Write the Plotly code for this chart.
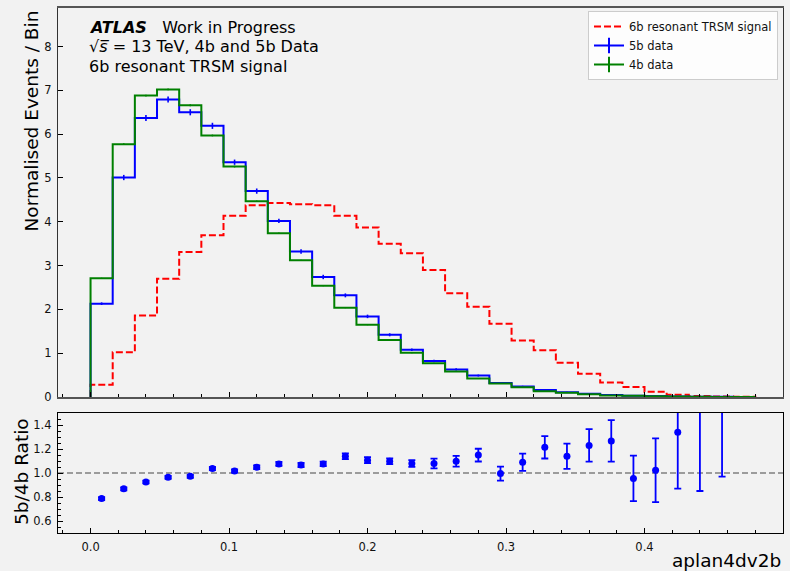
import plotly.graph_objects as go

# ---------------- data ----------------
bin_edges = [0.000, 0.016, 0.032, 0.048, 0.064, 0.080, 0.096, 0.112, 0.128, 0.144,
             0.160, 0.176, 0.192, 0.208, 0.224, 0.240, 0.256, 0.272, 0.288, 0.304,
             0.320, 0.336, 0.352, 0.368, 0.384, 0.400, 0.416, 0.432, 0.448, 0.464, 0.480]
bin_centers = [0.008, 0.024, 0.040, 0.056, 0.072, 0.088, 0.104, 0.120, 0.136, 0.152,
               0.168, 0.184, 0.200, 0.216, 0.232, 0.248, 0.264, 0.280, 0.296, 0.312,
               0.328, 0.344, 0.360, 0.376, 0.392, 0.408, 0.424, 0.440, 0.456, 0.472]

signal_6b = [0.28, 1.02, 1.86, 2.70, 3.31, 3.69, 4.14, 4.38, 4.43, 4.40,
             4.38, 4.14, 3.87, 3.50, 3.28, 2.90, 2.37, 2.06, 1.67, 1.29,
             1.07, 0.78, 0.53, 0.33, 0.23, 0.12, 0.05, 0.025, 0.012, 0.006]

data_5b = [2.13, 5.01, 6.37, 6.79, 6.50, 6.19, 5.36, 4.70, 4.02, 3.32,
           2.74, 2.32, 1.84, 1.42, 1.08, 0.82, 0.63, 0.49, 0.32, 0.24,
           0.16, 0.11, 0.075, 0.046, 0.030, 0.020, 0.012, 0.008, 0.004, 0.0]
data_5b_err = [0.03, 0.06, 0.07, 0.07, 0.07, 0.07, 0.06, 0.06, 0.05, 0.05,
               0.05, 0.045, 0.04, 0.035, 0.03, 0.028, 0.025, 0.022, 0.018, 0.016,
               0.013, 0.011, 0.009, 0.007, 0.006, 0.005, 0.004, 0.004, 0.003, 0.0]

data_4b = [2.71, 5.77, 6.88, 7.02, 6.66, 5.97, 5.26, 4.47, 3.74, 3.12,
           2.54, 2.04, 1.65, 1.30, 1.01, 0.77, 0.58, 0.42, 0.31, 0.22,
           0.13, 0.096, 0.061, 0.036, 0.031, 0.0196, 0.009, 0.004, 0.002, 0.0]
data_4b_err = [0.012, 0.02, 0.02, 0.02, 0.02, 0.02, 0.02, 0.018, 0.016, 0.015,
               0.013, 0.012, 0.011, 0.01, 0.009, 0.008, 0.007, 0.006, 0.005, 0.004,
               0.003, 0.003, 0.002, 0.002, 0.002, 0.001, 0.001, 0.001, 0.001, 0.0]

ratio_5b_4b = [0.787, 0.868, 0.925, 0.964, 0.972, 1.037, 1.017, 1.048, 1.076, 1.067,
               1.076, 1.140, 1.107, 1.098, 1.079, 1.079, 1.098, 1.149, 0.995, 1.090,
               1.214, 1.140, 1.230, 1.267, 0.955, 1.023, 1.340, 1.900, 2.300, None]
ratio_err = [0.012, 0.012, 0.012, 0.012, 0.012, 0.013, 0.014, 0.015, 0.017, 0.018,
             0.019, 0.024, 0.025, 0.024, 0.028, 0.040, 0.045, 0.053, 0.058, 0.072,
             0.093, 0.105, 0.135, 0.173, 0.190, 0.265, 0.470, 1.050, 1.330, None]

x_major_ticks = [0.0, 0.1, 0.2, 0.3, 0.4, 0.5]
main_y_ticks = [0, 1, 2, 3, 4, 5, 6, 7, 8]
ratio_y_ticks = [0.6, 0.8, 1.0, 1.2, 1.4]

# ---------------- layout helpers (pixel -> paper) ----------------
W, H = 790, 571
ML, MR, MT, MB = 58, 7, 8, 38
PW, PH = W - ML - MR, H - MT - MB


def px2x(p):
    return (p - ML) / PW


def px2y(p):
    return (H - MB - p) / PH


def step_xy(edges, vals):
    xs = [edges[0]] + list(edges) + [edges[-1]]
    ys = [0] + list(vals) + [vals[-1], 0]
    return xs, ys


FONT = "DejaVu Sans"
RED, BLUE, GREEN = "#ff0000", "#0000ff", "#008000"

fig = go.Figure()

# signal
sx, sy = step_xy(bin_edges, signal_6b)
fig.add_trace(go.Scatter(x=sx, y=sy, mode="lines", line=dict(color=RED, width=2, dash="7px,3px", shape="hv"),
                         name="6b resonant TRSM signal", xaxis="x", yaxis="y"))
# 5b data
bx, by = step_xy(bin_edges, data_5b)
fig.add_trace(go.Scatter(x=bx, y=by, mode="lines", line=dict(color=BLUE, width=2, shape="hv"),
                         showlegend=False, xaxis="x", yaxis="y"))
fig.add_trace(go.Scatter(x=bin_centers, y=data_5b, mode="markers", marker=dict(size=1, color=BLUE, opacity=0),
                         error_y=dict(type="data", array=data_5b_err, color=BLUE, thickness=1.6, width=0),
                         showlegend=False, xaxis="x", yaxis="y"))
# 4b data
gx, gy = step_xy(bin_edges, data_4b)
fig.add_trace(go.Scatter(x=gx, y=gy, mode="lines", line=dict(color=GREEN, width=2, shape="hv"),
                         showlegend=False, xaxis="x", yaxis="y"))
fig.add_trace(go.Scatter(x=bin_centers, y=data_4b, mode="markers", marker=dict(size=1, color=GREEN, opacity=0),
                         error_y=dict(type="data", array=data_4b_err, color=GREEN, thickness=1.4, width=0),
                         showlegend=False, xaxis="x", yaxis="y"))
# legend entries for data
fig.add_trace(go.Scatter(x=[None], y=[None], mode="lines+markers", name="5b data",
                         line=dict(color=BLUE, width=2),
                         marker=dict(symbol="line-ns-open", size=11, color=BLUE, line=dict(color=BLUE, width=2)),
                         xaxis="x", yaxis="y"))
fig.add_trace(go.Scatter(x=[None], y=[None], mode="lines+markers", name="4b data",
                         line=dict(color=GREEN, width=2),
                         marker=dict(symbol="line-ns-open", size=11, color=GREEN, line=dict(color=GREEN, width=2)),
                         xaxis="x", yaxis="y"))

# ratio
fig.add_trace(go.Scatter(x=bin_centers, y=ratio_5b_4b, mode="markers",
                         marker=dict(size=7, color=BLUE, symbol="circle"),
                         error_y=dict(type="data", array=ratio_err, color=BLUE, thickness=1.8, width=3.5),
                         showlegend=False, xaxis="x2", yaxis="y2"))

tickfont = dict(family=FONT, size=11.5, color="#111111")
xcommon = dict(range=[-0.0235, 0.5], tickmode="array", tickvals=x_major_ticks,
               ticks="inside", ticklen=5, tickwidth=1, tickcolor="#000000",
               minor=dict(dtick=0.02, tick0=0, ticks="inside", ticklen=3, tickwidth=1, tickcolor="#000000"),
               showgrid=False, zeroline=False, showline=True, mirror=True)

fig.update_layout(
    width=W, height=H,
    margin=dict(l=ML, r=MR, t=MT, b=MB),
    paper_bgcolor="#f2f2f2", plot_bgcolor="#f2f2f2",
    font=dict(family=FONT, color="#111111"),
    xaxis=dict(**xcommon, anchor="y", matches="x2", showticklabels=False,
               linecolor="#555555", linewidth=1.5),
    yaxis=dict(domain=[px2y(397), 1.0], range=[0, 8.88], tickmode="array", tickvals=main_y_ticks,
               ticks="inside", ticklen=5, tickwidth=1, tickcolor="#000000",
               showgrid=False, zeroline=False, showline=True, mirror=True,
               linecolor="#333333", linewidth=1.2, tickfont=tickfont, ticklabelstandoff=3, anchor="x"),
    xaxis2=dict(**xcommon, anchor="y2", showticklabels=True, tickformat=".1f", tickfont=tickfont,
                linecolor="#000000", linewidth=1.3, ticklabelstandoff=3),
    yaxis2=dict(domain=[0, px2y(413)], range=[0.5, 1.5], tickmode="array", tickvals=ratio_y_ticks,
                tickformat=".1f", ticks="inside", ticklen=5, tickwidth=1, tickcolor="#000000",
                minor=dict(dtick=0.05, tick0=0.5, ticks="inside", ticklen=3, tickwidth=1, tickcolor="#000000"),
                showgrid=False, zeroline=False, showline=True, mirror=True,
                linecolor="#000000", linewidth=1.3, tickfont=tickfont, ticklabelstandoff=3, anchor="x2"),
    legend=dict(x=px2x(588), y=px2y(11), xanchor="left", yanchor="top",
                bgcolor="rgba(255,255,255,0.8)", bordercolor="#cccccc", borderwidth=1,
                font=dict(family=FONT, size=11.5, color="#111111"), tracegroupgap=0,
                itemwidth=30),
    shapes=[dict(type="line", xref="x2 domain", yref="y2", x0=0, x1=1, y0=1.0, y1=1.0,
                 line=dict(color="#808080", width=1.6, dash="6px,3px"), layer="below")],
    annotations=[
        dict(text="<b><i>ATLAS</i></b>\u00a0\u00a0\u00a0Work in Progress", x=px2x(87), y=px2y(27),
             xref="paper", yref="paper", xanchor="left", yanchor="middle", showarrow=False,
             font=dict(family=FONT, size=16, color="#000000")),
        dict(text="\u221a<i>s\u0305</i> = 13 TeV, 4b and 5b Data", x=px2x(87), y=px2y(46),
             xref="paper", yref="paper", xanchor="left", yanchor="middle", showarrow=False,
             font=dict(family=FONT, size=16, color="#000000")),
        dict(text="6b resonant TRSM signal", x=px2x(87), y=px2y(66),
             xref="paper", yref="paper", xanchor="left", yanchor="middle", showarrow=False,
             font=dict(family=FONT, size=16, color="#000000")),
        dict(text="Normalised Events / Bin", textangle=-90, x=px2x(31), y=px2y(9),
             xref="paper", yref="paper", xanchor="center", yanchor="top", showarrow=False,
             font=dict(family=FONT, size=18.5, color="#000000")),
        dict(text="5b/4b Ratio", textangle=-90, x=px2x(21), y=px2y(472),
             xref="paper", yref="paper", xanchor="center", yanchor="middle", showarrow=False,
             font=dict(family=FONT, size=18.5, color="#000000")),
        dict(text="aplan4dv2b", x=px2x(783), y=px2y(560),
             xref="paper", yref="paper", xanchor="right", yanchor="middle", showarrow=False,
             font=dict(family=FONT, size=18.5, color="#000000")),
    ],
)

fig.write_html("out.html", config={"displayModeBar": False},
               post_script="document.body.style.margin='0px';")
